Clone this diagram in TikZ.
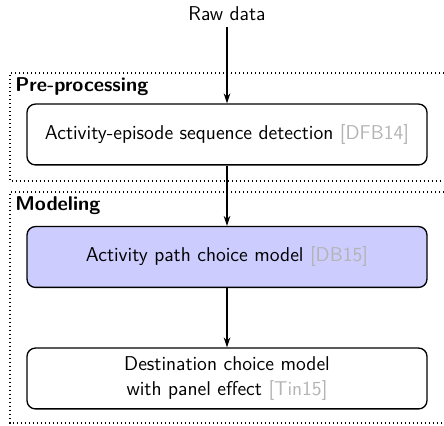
\documentclass[tikz,border=0pt]{standalone}
\usetikzlibrary{arrows.meta}
\renewcommand{\familydefault}{\sfdefault}
\definecolor{boxblue}{RGB}{204,204,255}
\definecolor{citegray}{RGB}{180,180,180}
\newcommand{\cit}[1]{\textcolor{citegray}{[#1]}}
\begin{document}
\begin{tikzpicture}[x=0.6pt,y=0.6pt,
  font=\fontsize{12}{15}\selectfont\sffamily,
  stepbox/.style={draw, line width=0.8pt, rounded corners=5pt, minimum width=240pt, minimum height=36.5pt, align=center, inner sep=0pt},
  frameline/.style={line width=0.7pt, dash pattern=on 0.7pt off 1.7pt},
  flow/.style={-{Stealth[length=6pt,width=4pt]}, line width=0.8pt},
  title/.style={font=\fontsize{12}{15}\selectfont\sffamily\bfseries, anchor=west, inner sep=0pt}]
\useasboundingbox (0,0) rectangle (444,426);
\draw[frameline] (444,353) -- (10,353) -- (10,245) -- (444,245);
\draw[frameline] (444,234) -- (10,234) -- (10,3) -- (444,3);
\node[title] (pre) at (15,339) {Pre-processing};
\node[title] (mod) at (15,220) {Modeling};
\node (raw) at (227,412) {Raw data};
\node[stepbox] (b1) at (227,291.5) {Activity-episode sequence detection \cit{DFB14}};
\node[stepbox, fill=boxblue] (b2) at (227,169) {Activity path choice model \cit{DB15}};
\node[stepbox] (b3) at (227,47.5) {Destination choice model\\with panel effect \cit{Tin15}};
\draw[flow] (raw.south) -- (b1.north);
\draw[flow] (b1.south) -- (b2.north);
\draw[flow] (b2.south) -- (b3.north);
\end{tikzpicture}
\end{document}
